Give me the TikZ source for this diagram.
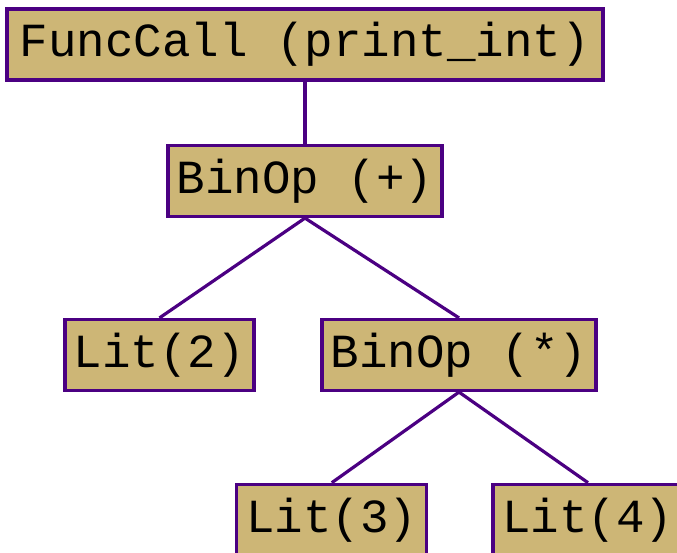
\documentclass[tikz,border=0pt]{standalone}
\usepackage{fontspec}
\setmonofont{Liberation Mono}
\definecolor{boxfill}{RGB}{205,182,118}
\definecolor{edgepurple}{RGB}{75,0,130}
\begin{document}
\begin{tikzpicture}[x=1pt,y=1pt,
  astnode/.style={draw=edgepurple, fill=boxfill, line width=3.2pt,
    minimum height=71pt, inner sep=0pt, text=black,
    font=\ttfamily\fontsize{47.5}{57}\selectfont},
  link/.style={draw=edgepurple, line width=3.2pt}]
\useasboundingbox (0,0) rectangle (677,552);

% syntax tree nodes
\node[astnode, minimum width=596pt] (funccall) at (305,507.5) {FuncCall (print\_int)};
\node[astnode, minimum width=274pt] (binplus) at (305,371) {BinOp (+)};
\node[astnode, minimum width=189pt] (lit2) at (159.5,197) {Lit(2)};
\node[astnode, minimum width=274pt] (bintimes) at (459,197) {BinOp (*)};
\node[astnode, minimum width=190pt] (lit3) at (331.8,32.2) {Lit(3)};
\node[astnode, minimum width=190pt] (lit4) at (588,32.2) {Lit(4)};

% parent-child links
\draw[link] (funccall.south) -- (binplus.north);
\draw[link] (binplus.south) -- (lit2.north);
\draw[link] (binplus.south) -- (bintimes.north);
\draw[link] (bintimes.south) -- (lit3.north);
\draw[link] (bintimes.south) -- (lit4.north);
\end{tikzpicture}
\end{document}
